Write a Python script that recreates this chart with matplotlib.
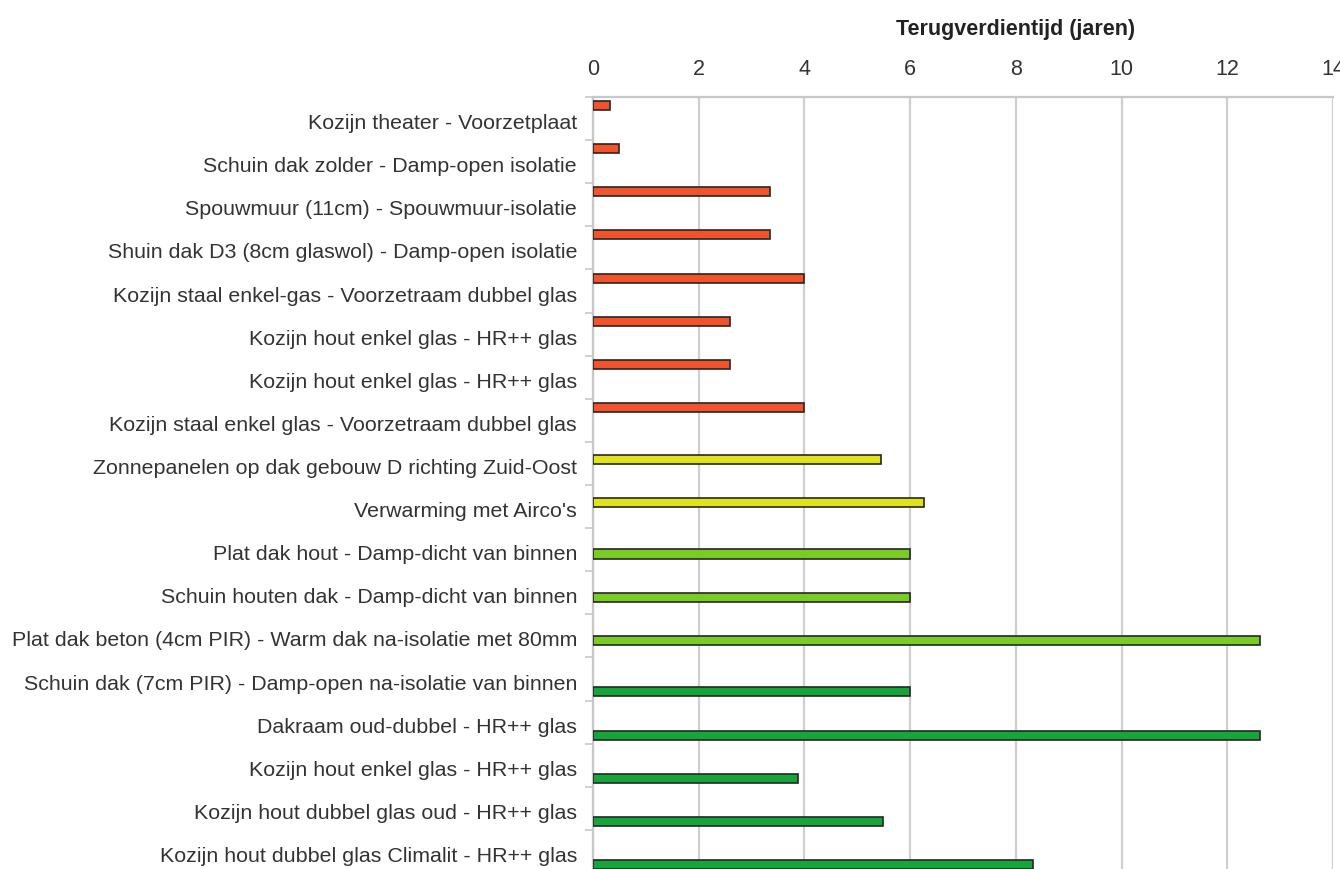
import matplotlib

matplotlib.use("Agg")
import matplotlib.pyplot as plt
import numpy as np

categories = [
    "Kozijn theater - Voorzetplaat",
    "Schuin dak zolder - Damp-open isolatie",
    "Spouwmuur (11cm) - Spouwmuur-isolatie",
    "Shuin dak D3 (8cm glaswol) - Damp-open isolatie",
    "Kozijn staal enkel-gas - Voorzetraam dubbel glas",
    "Kozijn hout enkel glas - HR++ glas",
    "Kozijn hout enkel glas - HR++ glas",
    "Kozijn staal enkel glas - Voorzetraam dubbel glas",
    "Zonnepanelen op dak gebouw D richting Zuid-Oost",
    "Verwarming met Airco's",
    "Plat dak hout - Damp-dicht van binnen",
    "Schuin houten dak - Damp-dicht van binnen",
    "Plat dak beton (4cm PIR) - Warm dak na-isolatie met 80mm",
    "Schuin dak (7cm PIR) - Damp-open na-isolatie van binnen",
    "Dakraam oud-dubbel - HR++ glas",
    "Kozijn hout enkel glas - HR++ glas",
    "Kozijn hout dubbel glas oud - HR++ glas",
    "Kozijn hout dubbel glas Climalit - HR++ glas",
]

# one value per category, each category belongs to one of four series
series_red = [0.32, 0.5, 3.35, 3.35, 4.0, 2.6, 2.6, 4.0] + [np.nan] * 10
series_yellow = [np.nan] * 8 + [5.44, 6.26] + [np.nan] * 8
series_lightgreen = [np.nan] * 10 + [6.0, 6.0, 12.62] + [np.nan] * 5
series_green = [np.nan] * 13 + [6.0, 12.62, 3.88, 5.49, 8.33]

series = [series_red, series_yellow, series_lightgreen, series_green]
colors = ["#f2532b", "#dfe31a", "#78cc24", "#15a63a"]
xticks = [0, 2, 4, 6, 8, 10, 12, 14]

font = ["Liberation Sans", "DejaVu Sans"]

fig = plt.figure(figsize=(13.4, 8.69), dpi=100)
ax = fig.add_axes([593 / 1340, -4 / 869, 740 / 1340, 776 / 869])

n = len(categories)
ypos = np.arange(n)
height = 0.21
offsets = [-0.3, -0.1, 0.1, 0.3]
for values, color, off in zip(series, colors, offsets):
    ax.barh(ypos + off, values, height=height, color=color,
            edgecolor="#262626", linewidth=1.2, zorder=3)

ax.set_ylim(n - 0.5, -0.5)
ax.set_xlim(0, 14)

ax.xaxis.tick_top()
ax.set_xticks(xticks)
ax.set_xticklabels([str(t) for t in xticks])
ax.tick_params(axis="x", length=0, pad=12, labelsize=15.5, labelcolor="#333333")
ax.grid(axis="x", color="#cfcfcf", linewidth=1.6, zorder=0)

ax.set_yticks(np.arange(n + 1) - 0.5)
ax.set_yticklabels([])
ax.set_yticks(ypos + 0.07, minor=True)
ax.set_yticklabels(categories, minor=True)
ax.tick_params(axis="y", which="major", length=6, width=1.2, color="#c8c8c8", direction="out")
ax.tick_params(axis="y", which="minor", length=0, pad=11.5, labelsize=15.4, labelcolor="#333333")

for side in ["right", "bottom"]:
    ax.spines[side].set_visible(False)
for side in ["top", "left"]:
    ax.spines[side].set_color("#c8c8c8")
    ax.spines[side].set_linewidth(1.6)

for label in ax.get_xticklabels() + ax.get_yticklabels(minor=True):
    label.set_family(font)

fig.text(1016 / 1340, 1 - 30 / 869, "Terugverdientijd (jaren)", ha="center", va="center",
         fontsize=15.5, fontweight="bold", color="#222222", family=font)

fig.savefig("out.png", dpi=100)
